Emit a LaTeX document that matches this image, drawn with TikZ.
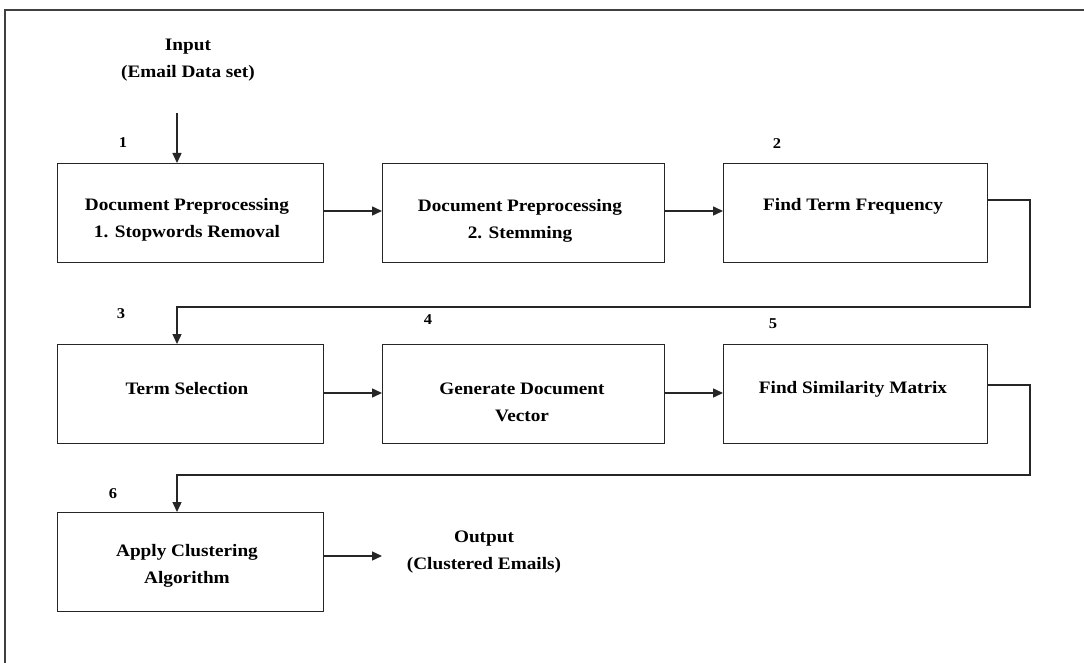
\documentclass[tikz,border=0pt]{standalone}
\usepackage{fontspec}
\setmainfont{Liberation Serif}[FakeStretch=1.1]
\usetikzlibrary{arrows.meta}
\begin{document}
\begin{tikzpicture}[x=1pt,y=-1pt,
  stepbox/.style={draw=black!85,line width=1.4pt,minimum width=266pt,minimum height=99pt,anchor=north west,inner sep=0pt},
  boxtext/.style={font=\bfseries\fontsize{17.5}{27}\selectfont,align=center},
  lbl/.style={font=\bfseries\fontsize{15}{16}\selectfont},
  conn/.style={draw=black!85,line width=1.4pt,-{Triangle[length=10pt,width=9pt]}}]
\useasboundingbox (0,0) rectangle (1084,663);
\fill[white] (0,0) rectangle (1084,663);
\draw[black!75,line width=1.5pt] (5,663) -- (5,10) -- (1084,10);
% boxes
\node[stepbox] (b1) at (57,163) {};
\node[stepbox,minimum width=282pt] (b2) at (382,163) {};
\node[stepbox,minimum width=264pt] (b3) at (723,163) {};
\node[stepbox] (b4) at (57,344) {};
\node[stepbox,minimum width=282pt] (b5) at (382,344) {};
\node[stepbox,minimum width=264pt] (b6) at (723,344) {};
\node[stepbox] (b7) at (57,512) {};
% texts
\node[boxtext] at (187,220) {Document Preprocessing\\1. Stopwords Removal};
\node[boxtext] at (520,221) {Document Preprocessing\\2. Stemming};
\node[boxtext] at (853,206) {Find Term Frequency};
\node[boxtext] at (187,389) {Term Selection};
\node[boxtext] at (522,402) {Generate Document\\Vector};
\node[boxtext] at (853,389) {Find Similarity Matrix};
\node[boxtext] at (187,566) {Apply Clustering\\Algorithm};
\node[boxtext] (in) at (188,60) {Input\\(Email Data set)};
\node[boxtext] (out) at (484,552) {Output\\(Clustered Emails)};
% step numbers
\node[lbl] (n1) at (123,143) {1};
\node[lbl] (n2) at (777,144) {2};
\node[lbl] (n3) at (121,314) {3};
\node[lbl] (n4) at (428,320) {4};
\node[lbl] (n5) at (773,324) {5};
\node[lbl] (n6) at (113,494) {6};
% connectors
\coordinate (inend) at (177,113);
\draw[conn] (inend) -- (b1.north west -| inend);
\draw[conn] (b1.east |- 0,211) -- (b2.west |- 0,211);
\draw[conn] (b2.east |- 0,211) -- (b3.west |- 0,211);
\draw[conn] (b3.east |- 0,200) -- (1030,200) -- (1030,307) -- (177,307) -- (b4.north west -| inend);
\draw[conn] (b4.east |- 0,393) -- (b5.west |- 0,393);
\draw[conn] (b5.east |- 0,393) -- (b6.west |- 0,393);
\draw[conn] (b6.east |- 0,385) -- (1030,385) -- (1030,475) -- (177,475) -- (b7.north west -| inend);
\coordinate (outstart) at (382,556);
\draw[conn] (b7.east |- outstart) -- (outstart);
\end{tikzpicture}
\end{document}
